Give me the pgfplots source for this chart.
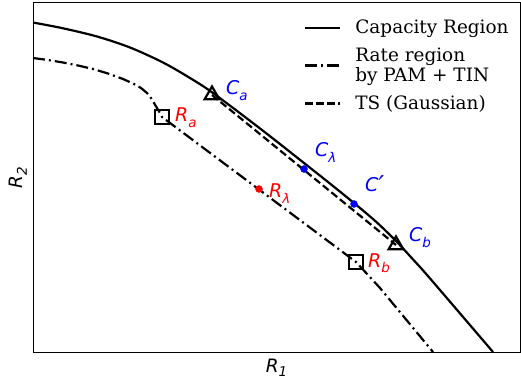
\documentclass[border=0pt]{standalone}
\usepackage{fontspec}
\setmainfont{DejaVu Serif}
\newfontfamily\dvs{DejaVu Sans}
\usepackage{pgfplots}
\pgfplotsset{compat=1.18}
\newcommand{\mi}[2]{{\dvs\itshape #1\raisebox{-0.3em}{\fontsize{13.5}{13.5}\selectfont #2}}}
\newcommand{\ml}[2]{{\dvs\itshape #1\raisebox{-0.22em}{\fontsize{13.5}{13.5}\selectfont #2}}}
\begin{document}
\begin{tikzpicture}
\begin{axis}[
  scale only axis, width=487bp, height=349bp,
  xmin=0, xmax=487, ymin=0, ymax=349,
  xtick=\empty, ytick=\empty,
  axis line style={line width=1bp, black},
  clip=false,
  xlabel={\ml{R}{1}}, ylabel={\ml{R}{2}},
  label style={font=\fontsize{18.5}{18.5}\selectfont},
  xlabel style={at={(rel axis cs:0.5,0)}, anchor=base, yshift=-20bp},
  ylabel style={at={(rel axis cs:-0.021,0.5)}, anchor=base},
  legend image code/.code={\draw[#1] (0bp,0bp) -- (35bp,0bp);},
  legend style={draw=none, fill=none, at={(axis cs:268,336)}, anchor=north west,
    font=\fontsize{18.5}{19.5}\selectfont, cells={anchor=west, align=left}, row sep=9bp,
    /tikz/every odd column/.append style={column sep=12bp}},
]
\addplot[black, line width=2.2bp, smooth, tension=0.5] coordinates {
(0,329.5) (30,323.7) (64,315.5) (97,304.5) (130,289.5) (157,274) (180,259) (229,222) (271,189) (300,166) (327,144) (345,128.5) (363,111) (380,92.6) (397,73.6) (460,0)};
\addlegendentry{Capacity Region}
\addplot[black, line width=2.2bp, dash pattern=on 12bp off 4bp on 2bp off 4bp] coordinates {
(0,294) (15,292) (30,289.5) (45,286.5) (60,283) (75,278.5) (90,273) (100,268.5) (108,264) (114,259) (118,254) (121,249) (124,244) (127,239) (129,235) (323,90) (347,64) (400,0)};
\addlegendentry{Rate region\\by PAM + TIN}
\addplot[black, line width=2.2bp, dash pattern=on 7.5bp off 3.5bp] coordinates {(179,257) (363,107)};
\addlegendentry{TS (Gaussian)}
\addplot[forget plot, only marks, mark=triangle, mark size=8.5bp, black, line width=2.2bp] coordinates {(179,257) (363,107)};
\addplot[forget plot, only marks, mark=square, mark size=7bp, black, line width=2.2bp] coordinates {(129,235) (323,90)};
\addplot[forget plot, only marks, mark=*, mark size=3.5bp, blue, draw=blue] coordinates {(271,183) (321,148)};
\addplot[forget plot, only marks, mark=*, mark size=3.5bp, red, draw=red] coordinates {(226,163)};
\begin{scope}[every node/.style={font=\fontsize{19}{19}\selectfont, anchor=base west, inner sep=0pt}]
\node[blue] at (axis cs:193,257) {\mi{C}{a}};
\node[red] at (axis cs:142,230) {\mi{R}{a}};
\node[blue] at (axis cs:282,195) {\mi{C}{λ}};
\node[red] at (axis cs:236,154) {\mi{R}{λ}};
\node[blue] at (axis cs:332,160) {{\dvs\itshape C\raisebox{-0.12em}{\fontsize{26}{26}\selectfont ′}}};
\node[blue] at (axis cs:376,110) {\mi{C}{b}};
\node[red] at (axis cs:335,85) {\mi{R}{b}};
\end{scope}
\end{axis}
\pgfresetboundingbox
\path[use as bounding box] ([shift={(-33bp,-29bp)}]current axis.south west) rectangle ([shift={(1bp,3bp)}]current axis.north east);
\end{tikzpicture}
\end{document}
